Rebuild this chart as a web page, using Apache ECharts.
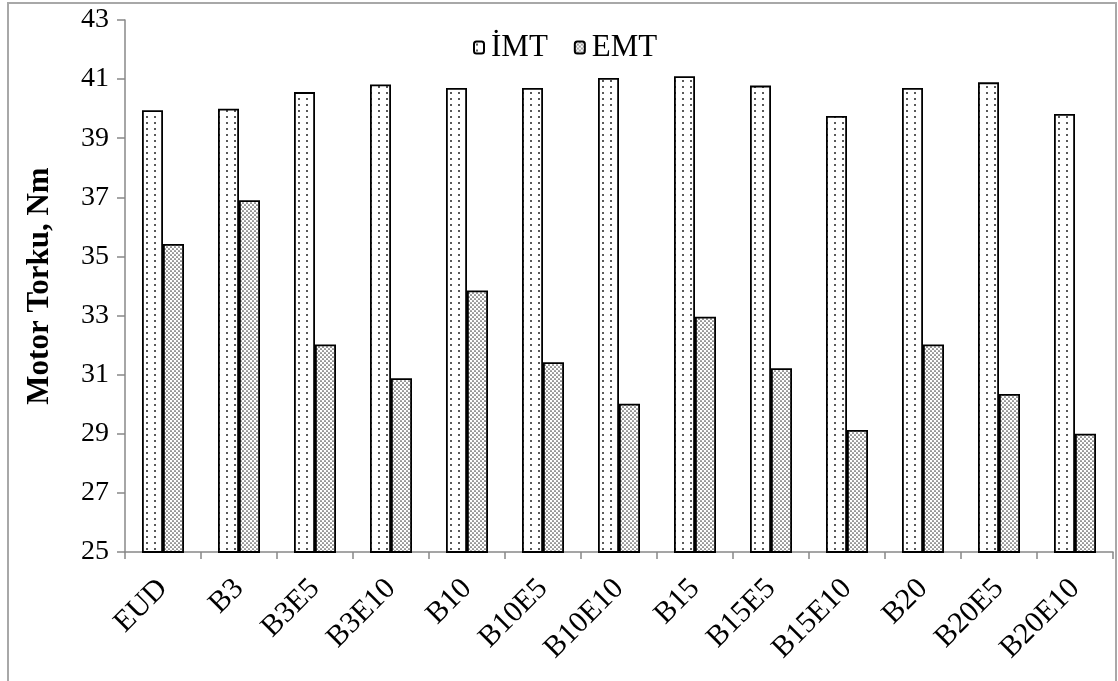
<!DOCTYPE html>
<html>
<head>
<meta charset="utf-8">
<script src="https://cdn.jsdelivr.net/npm/echarts@6/dist/echarts.min.js"></script>
<style>
html,body{margin:0;padding:0;background:#fff;}
#chart{width:1118px;height:681px;}
</style>
</head>
<body>
<div id="chart"></div>
<script>
const categories = ['EUD','B3','B3E5','B3E10','B10','B10E5','B10E10','B15','B15E5','B15E10','B20','B20E5','B20E10'];
const imtValues = [39.95, 40.0, 40.56, 40.82, 40.7, 40.7, 41.04, 41.1, 40.78, 39.75, 40.7, 40.89, 39.82];
const emtValues = [35.42, 36.9, 32.02, 30.88, 33.85, 31.42, 30.02, 32.96, 31.22, 29.13, 32.02, 30.35, 29.0];
const seriesNames = ['İMT', 'EMT'];

function makePattern(w, h, dots, r, col) {
  const c = document.createElement('canvas');
  c.width = w; c.height = h;
  const ctx = c.getContext('2d');
  ctx.fillStyle = '#fff';
  ctx.fillRect(0, 0, w, h);
  ctx.fillStyle = col;
  dots.forEach(d => { ctx.beginPath(); ctx.arc(d[0], d[1], r, 0, Math.PI * 2); ctx.fill(); });
  return c;
}
const sparse = makePattern(8, 6, [[3, 3]], 1.0, '#222');
const dense = makePattern(4, 4, [[1, 1], [3, 3]], 0.85, '#444');

const serif = '"Liberation Serif", "DejaVu Serif", serif';
const chart = echarts.init(document.getElementById('chart'));
chart.setOption({
  backgroundColor: '#fff',
  animation: false,
  graphic: [{
    type: 'rect', shape: { x: 8, y: 3, width: 1108, height: 700 },
    style: { fill: 'none', stroke: '#a8a8a8', lineWidth: 2 }, z: 0, silent: true
  }],
  legend: {
    left: 468, top: 27, itemWidth: 10, itemHeight: 12, itemGap: 26,
    textStyle: { fontFamily: serif, fontSize: 31, color: '#000', padding: [0, 0, 0, 2] },
    data: seriesNames
  },
  grid: { left: 125, top: 20, right: 5, bottom: 129, containLabel: false },
  xAxis: {
    type: 'category', data: categories,
    axisLine: { lineStyle: { color: '#888', width: 1.5 } },
    axisTick: { show: true, length: 7, interval: 0, lineStyle: { color: '#888', width: 1.5 } },
    axisLabel: { rotate: 45, interval: 0, margin: 32, fontFamily: serif, fontSize: 30, color: '#000' }
  },
  yAxis: {
    type: 'value', min: 25, max: 43, interval: 2,
    name: 'Motor Torku, Nm', nameLocation: 'middle', nameGap: 70,
    nameTextStyle: { fontFamily: serif, fontSize: 31, fontWeight: 'bold', color: '#000' },
    axisLine: { show: true, lineStyle: { color: '#888', width: 1.5 } },
    axisTick: { show: true, length: 8, lineStyle: { color: '#888', width: 1.5 } },
    axisLabel: { margin: 16, fontFamily: serif, fontSize: 28, color: '#000' },
    splitLine: { show: false }
  },
  series: [
    {
      name: seriesNames[0], type: 'bar', data: imtValues, barWidth: 21, barGap: '0%',
      itemStyle: { color: { image: sparse, repeat: 'repeat' }, borderColor: '#000', borderWidth: 1.8 }
    },
    {
      name: seriesNames[1], type: 'bar', data: emtValues, barWidth: 21,
      itemStyle: { color: { image: dense, repeat: 'repeat' }, borderColor: '#000', borderWidth: 1.8 }
    }
  ]
});
</script>
</body>
</html>
